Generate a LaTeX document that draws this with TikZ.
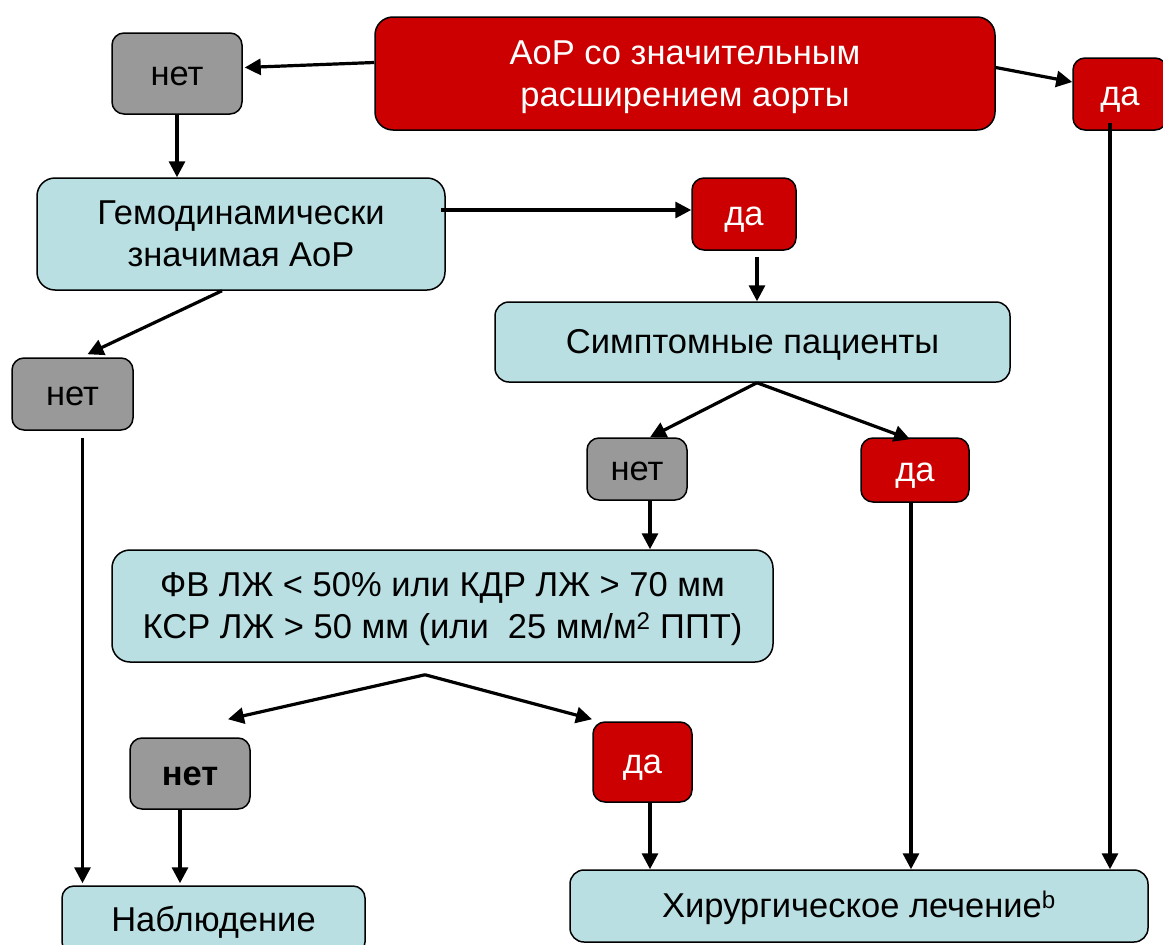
\documentclass[tikz,border=0pt]{standalone}
\usepackage{fontspec}
\setmainfont{Liberation Sans}
\usetikzlibrary{arrows.meta,calc}
\definecolor{boxred}{RGB}{204,0,0}
\definecolor{boxgray}{RGB}{153,153,153}
\definecolor{boxblue}{RGB}{185,223,226}
\newcommand{\ls}{\rule[-7.3pt]{0pt}{38.5pt}}
\tikzset{
  base/.style={draw=black, line width=1.5pt, rounded corners=12pt, inner sep=0pt, align=center,
    font=\fontsize{34.5}{42}\selectfont},
  redbox/.style={base, fill=boxred, text=white},
  graybox/.style={base, fill=boxgray, text=black},
  bluebox/.style={base, fill=boxblue, text=black, rounded corners=18pt},
  conn/.style={line width=3.2pt, -{Triangle[length=16pt,width=16pt]}}
}
\begin{document}
\begin{tikzpicture}[x=1pt,y=-1pt]
\useasboundingbox (0,0) rectangle (1163,945);
% nodes
\node[redbox, rounded corners=18pt, minimum width=620pt, minimum height=113pt] (top) at (685,73.5) {\ls АоР со значительным\\расширением аорты\ls};
\node[graybox, minimum width=130pt, minimum height=81pt] (netA) at (177,73.5) {\ls нет};
\node[redbox, minimum width=94pt, minimum height=72pt] (daA) at (1120,94) {\ls да};
\node[bluebox, minimum width=408pt, minimum height=112pt] (gemo) at (241,234) {\ls Гемодинамически\\значимая АоР\ls};
\node[redbox, minimum width=104pt, minimum height=72pt] (daB) at (744,214) {\ls да};
\node[bluebox, rounded corners=14pt, minimum width=515pt, minimum height=80pt] (simp) at (752.5,342) {\ls Симптомные пациенты};
\node[graybox, minimum width=121pt, minimum height=72pt] (netB) at (72.5,394) {\ls нет};
\node[graybox, minimum width=100pt, minimum height=62pt] (netC) at (637,469) {\ls нет};
\node[redbox, minimum width=108pt, minimum height=64pt] (daC) at (915,470) {\ls да};
\node[bluebox, minimum width=661pt, minimum height=112pt] (fv) at (442.5,606) {\ls ФВ ЛЖ < 50\% или КДР ЛЖ > 70 мм\\КСР ЛЖ > 50 мм (или\ \ 25 мм/м\textsuperscript{2} ППТ)\ls};
\node[graybox, minimum width=120pt, minimum height=71pt, font=\fontsize{34.5}{42}\selectfont\bfseries] (netD) at (190,773.5) {\ls нет};
\node[redbox, minimum width=99pt, minimum height=80pt] (daD) at (642.5,762) {\ls да};
\node[bluebox, rounded corners=12pt, minimum width=303pt, minimum height=68pt] (nabl) at (213.5,920) {\ls Наблюдение};
\node[bluebox, rounded corners=14pt, minimum width=578pt, minimum height=72pt] (hir) at (859,906) {\ls Хирургическое лечение\textsuperscript{b}};
% connectors
\draw[conn] ($(top.west)+(0,-11)$) -- ($(netA.east)+(2,-6)$);
\draw[conn] (netA.south) -- (netA.south |- gemo.north);
\draw[conn] ($(top.east)+(0,-6)$) -- ($(daA.west)+(0,-12)$);
\draw[conn] ($(gemo.east)+(-5,-24)$) -- ($(daB.west)+(0,-4)$);
\coordinate (daBout) at ($(daB.south)+(13,6)$);
\draw[conn] (daBout) -- (daBout |- simp.north);
\draw[conn] ($(gemo.south)+(-19,0)$) -- ($(netB.north)+(15,-3)$);
\coordinate (netBout) at ($(netB.south)+(10,7)$);
\draw[conn] (netBout) -- ($(netBout |- nabl.north)+(0,-2)$);
\coordinate (simpsplit) at ($(simp.south)+(4.5,0)$);
\draw[conn] (simpsplit) -- ($(netC.north)+(13,0)$);
\draw[conn] (simpsplit) -- ($(daC.north)+(-5,2)$);
\coordinate (netCout) at ($(netC.south)+(13,0)$);
\draw[conn] (netCout) -- (netCout |- fv.north);
\coordinate (daCout) at ($(daC.south)+(-4,0)$);
\draw[conn] (daCout) -- (daCout |- hir.north);
\coordinate (daAout) at ($(daA.south)+(-10,-8)$);
\draw[conn] (daAout) -- (daAout |- hir.north);
\coordinate (fvsplit) at ($(fv.south)+(-17.5,12)$);
\draw[conn] (fvsplit) -- ($(netD.north)+(38,-18)$);
\draw[conn] (fvsplit) -- ($(daD.north)+(-50.5,-2)$);
\coordinate (netDout) at ($(netD.south)+(-10,0)$);
\draw[conn] (netDout) -- ($(netDout |- nabl.north)+(0,-2)$);
\coordinate (daDout) at ($(daD.south)+(7.5,0)$);
\draw[conn] (daDout) -- (daDout |- hir.north);
\end{tikzpicture}
\end{document}
